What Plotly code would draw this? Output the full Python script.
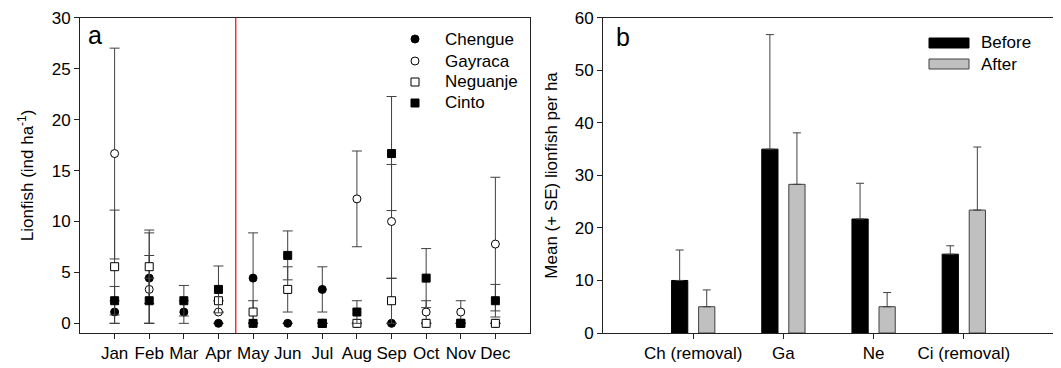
import plotly.graph_objects as go

# ---------------- Panel a data ----------------
months = ["Jan", "Feb", "Mar", "Apr", "May", "Jun", "Jul", "Aug", "Sep", "Oct", "Nov", "Dec"]
month_pos = [1, 2, 3, 4, 5, 6, 7, 8, 9, 10, 11, 12]

chengue = [1.11, 4.44, 1.11, 0, 4.44, 0, 3.33, 0, 0, 0, 0, 0]
chengue_se = [1.11, 4.44, 1.11, 0, 4.44, 0, 2.22, 0, 0, 0, 0, 0]
gayraca = [16.67, 3.33, None, 1.11, 0, None, 0, 12.22, 10.0, 1.11, 1.11, 7.78]
gayraca_se = [10.35, 3.33, None, 0, 0, None, 0, 4.7, 5.6, 1.11, 1.11, 6.56]
neguanje = [5.56, 5.56, None, 2.22, 1.11, 3.33, 0, 0, 2.22, 0, 0, 0]
neguanje_se = [5.56, 3.6, None, 0, 1.11, 2.22, 0, 0, 2.22, 0, 0, 0]
cinto = [2.22, 2.22, 2.22, 3.33, 0, 6.67, 0, 1.11, 16.67, 4.44, 0, 2.22]
cinto_se = [1.4, 2.22, 1.5, 2.3, 0, 2.4, 0, 1.11, 5.6, 2.9, 0, 1.6]

# ---------------- Panel b data ----------------
sites = ["Ch (removal)", "Ga", "Ne", "Ci (removal)"]
before = [10.0, 35.0, 21.7, 15.0]
before_se = [5.8, 21.8, 6.8, 1.6]
after = [5.0, 28.3, 5.0, 23.4]
after_se = [3.2, 9.8, 2.7, 12.0]

FONT = "Liberation Sans, Arial, sans-serif"
ERRC = "#404040"
FS = 17

fig = go.Figure()

series = [
    ("Chengue", chengue, chengue_se, "circle", "black"),
    ("Gayraca", gayraca, gayraca_se, "circle", "white"),
    ("Neguanje", neguanje, neguanje_se, "square", "white"),
    ("Cinto", cinto, cinto_se, "square", "black"),
]
for name, vals, se, sym, fill in series:
    fig.add_trace(go.Scatter(
        x=month_pos, y=vals, name=name, mode="markers",
        xaxis="x", yaxis="y", showlegend=False,
        marker=dict(symbol=sym, size=8, color=fill, line=dict(color="black", width=1)),
        error_y=dict(type="data", array=se, visible=True, color=ERRC, thickness=1, width=5),
    ))

fig.add_trace(go.Bar(
    x=sites, y=before, name="Before", xaxis="x2", yaxis="y2", showlegend=False,
    marker=dict(color="black", line=dict(color="black", width=1)),
    error_y=dict(type="data", array=before_se, arrayminus=[0] * len(before_se),
                 symmetric=False, visible=True, color=ERRC, thickness=1, width=4),
))
fig.add_trace(go.Bar(
    x=sites, y=after, name="After", xaxis="x2", yaxis="y2", showlegend=False,
    marker=dict(color="#c0c0c0", line=dict(color="#404040", width=1)),
    error_y=dict(type="data", array=after_se, arrayminus=[0] * len(after_se),
                 symmetric=False, visible=True, color=ERRC, thickness=1, width=4),
))

# page body has an 8px margin: figure is drawn from (8, 8) in the window
OFF = 8
W, H = 1061 - OFF, 368 - OFF
def px(v):
    return (v - OFF) / W
def py(v):
    return 1 - (v - OFF) / H

ydom = [py(333), py(17.8)]
axis_common = dict(showline=True, linecolor="#222", linewidth=1, mirror=True,
                   ticks="outside", ticklen=5, tickcolor="#222", showgrid=False,
                   zeroline=False, automargin=False,
                   tickfont=dict(family=FONT, size=FS, color="black"))

fig.update_layout(
    width=W, height=H,
    margin=dict(l=0, r=0, t=0, b=0, autoexpand=False),
    paper_bgcolor="white", plot_bgcolor="white",
    barmode="group", bargap=0.4, bargroupgap=0.4,
    font=dict(family=FONT, size=FS, color="black"),
    xaxis=dict(domain=[px(80), px(530)], range=[0, 13], tickvals=month_pos,
               ticktext=months, anchor="y", **axis_common),
    yaxis=dict(domain=ydom, range=[-0.95, 30], tickvals=[0, 5, 10, 15, 20, 25, 30],
               anchor="x", title=dict(text="Lionfish (ind ha<sup>-1</sup>)",
                                      font=dict(family=FONT, size=FS), standoff=13),
               **axis_common),
    xaxis2=dict(domain=[px(603), px(1054)], range=[-1, 4], anchor="y2",
                type="category", **axis_common),
    yaxis2=dict(domain=ydom, range=[0, 60], tickvals=[0, 10, 20, 30, 40, 50, 60],
                anchor="x2", title=dict(text="Mean (+ SE) lionfish per ha",
                                        font=dict(family=FONT, size=FS), standoff=12),
                **axis_common),
    showlegend=False,
)

# red divider between Apr and May
fig.add_shape(type="line", xref="x", yref="y domain", x0=4.5, x1=4.5, y0=0, y1=1,
              line=dict(color="red", width=1.2))

# panel labels
fig.add_annotation(text="a", xref="paper", yref="paper", x=px(86), y=py(35),
                   xanchor="left", yanchor="middle", showarrow=False,
                   font=dict(family=FONT, size=25, color="black"))
fig.add_annotation(text="b", xref="paper", yref="paper", x=px(614), y=py(37),
                   xanchor="left", yanchor="middle", showarrow=False,
                   font=dict(family=FONT, size=25, color="black"))

# panel a legend
leg_a = [("Chengue", "circle", "black", 39), ("Gayraca", "circle", "white", 61),
         ("Neguanje", "rect", "white", 82), ("Cinto", "rect", "black", 103)]
for label, kind, fill, yc in leg_a:
    fig.add_shape(type=kind, xref="paper", yref="paper",
                  x0=px(411), x1=px(419), y0=py(yc + 4), y1=py(yc - 4),
                  fillcolor=fill, line=dict(color="black", width=1))
    fig.add_annotation(text=label, xref="paper", yref="paper", x=px(443), y=py(yc),
                       xanchor="left", yanchor="middle", showarrow=False,
                       font=dict(family=FONT, size=FS, color="black"))

# panel b legend (wide swatches)
for label, fill, edge, yc in [("Before", "black", "black", 43), ("After", "#c0c0c0", "#404040", 64)]:
    fig.add_shape(type="rect", xref="paper", yref="paper",
                  x0=px(929), x1=px(969), y0=py(yc + 5), y1=py(yc - 5),
                  fillcolor=fill, line=dict(color=edge, width=1))
    fig.add_annotation(text=label, xref="paper", yref="paper", x=px(979), y=py(yc),
                       xanchor="left", yanchor="middle", showarrow=False,
                       font=dict(family=FONT, size=FS, color="black"))

fig.write_html("out.html")
